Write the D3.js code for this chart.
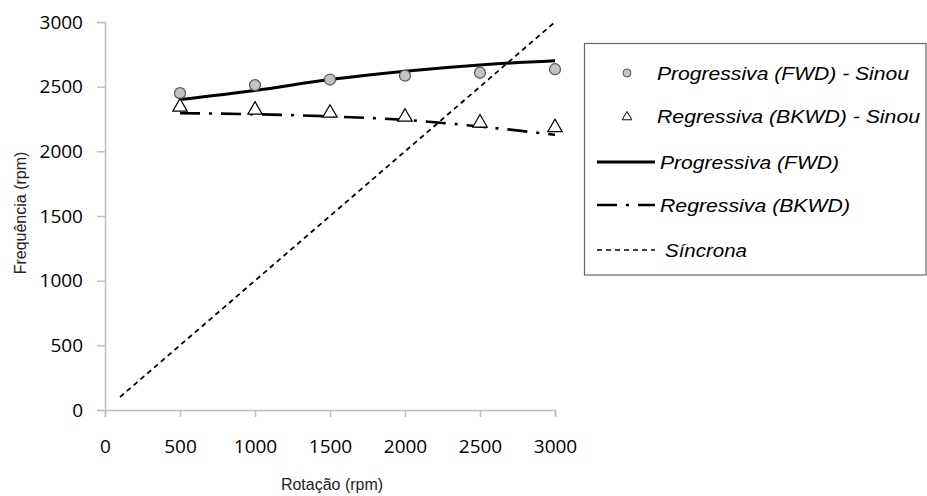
<!DOCTYPE html>
<html>
<head>
<meta charset="utf-8">
<script src="https://cdn.jsdelivr.net/npm/d3@7"></script>
<style>
  html, body { margin: 0; padding: 0; background: #fff; }
  svg { display: block; }
</style>
</head>
<body>
<svg id="chart" width="927" height="496"></svg>
<script>
// Rotor speed (rpm) for the measured points and the fitted curves
const rotacao = [500, 1000, 1500, 2000, 2500, 3000];
// Measured forward / backward whirl frequencies (Sinou)
const fwdSinou = [2450, 2512, 2555, 2585, 2608, 2635];
const bkwdSinou = [2343, 2320, 2296, 2265, 2220, 2184];
// Computed forward / backward whirl curves
const fwdModel = [2400, 2470, 2555, 2620, 2668, 2700];
const bkwdModel = [2295, 2287, 2270, 2243, 2192, 2128];
// Synchronous line (frequency = rotation)
const sincrona = [[100, 100], [3000, 3000]];
const xTicks = [0, 500, 1000, 1500, 2000, 2500, 3000];
const yTicks = [0, 500, 1000, 1500, 2000, 2500, 3000];
const legendLabels = [
  "Progressiva (FWD) - Sinou",
  "Regressiva (BKWD) - Sinou",
  "Progressiva (FWD)",
  "Regressiva (BKWD)",
  "Síncrona"
];

const svg = d3.select("#chart");
const x = d3.scaleLinear().domain([0, 3000]).range([105, 555]);
const y = d3.scaleLinear().domain([0, 3000]).range([410, 22]);

const tickFont = "'Open Sans', sans-serif";
const axisColor = "#bfbfbf";

// X axis
const xAxis = svg.append("g")
  .attr("transform", `translate(0,${y(0)})`)
  .call(d3.axisBottom(x).tickValues(xTicks).tickSize(7).tickPadding(23).tickFormat(d3.format("d")));
// Y axis
const yAxis = svg.append("g")
  .attr("transform", `translate(${x(0)},0)`)
  .call(d3.axisLeft(y).tickValues(yTicks).tickSize(8).tickPadding(14).tickFormat(d3.format("d")));

[xAxis, yAxis].forEach(g => {
  g.select(".domain").attr("stroke", axisColor).attr("stroke-width", 1.5);
  g.selectAll(".tick line").attr("stroke", axisColor).attr("stroke-width", 1.5);
  g.selectAll(".tick text")
    .attr("fill", "#000")
    .style("font-family", tickFont)
    .style("font-size", "19px");
});

// Axis titles
svg.append("text")
  .attr("x", 332).attr("y", 490)
  .attr("text-anchor", "middle")
  .attr("fill", "#222")
  .style("font-family", "'Liberation Sans', Arial, sans-serif")
  .style("font-size", "16px")
  .text("Rotação (rpm)");

svg.append("text")
  .attr("transform", "translate(26,213) rotate(-90)")
  .attr("text-anchor", "middle")
  .attr("fill", "#222")
  .style("font-family", "'Liberation Sans', Arial, sans-serif")
  .style("font-size", "16px")
  .text("Frequência (rpm)");

// Synchronous dashed line
const line = d3.line().x(d => x(d[0])).y(d => y(d[1]));
svg.append("path")
  .datum(sincrona)
  .attr("d", line)
  .attr("fill", "none")
  .attr("stroke", "#000")
  .attr("stroke-width", 1.8)
  .attr("stroke-dasharray", "5,4");

// Fitted curves
const curve = d3.line().x((d, i) => x(rotacao[i])).y(d => y(d)).curve(d3.curveMonotoneX);
svg.append("path")
  .datum(fwdModel)
  .attr("d", curve)
  .attr("fill", "none")
  .attr("stroke", "#000")
  .attr("stroke-width", 3);

svg.append("path")
  .datum(bkwdModel)
  .attr("d", curve)
  .attr("fill", "none")
  .attr("stroke", "#000")
  .attr("stroke-width", 2.6)
  .attr("stroke-dasharray", "20,9,3,9");

// Measured points
svg.append("g").selectAll("circle")
  .data(fwdSinou)
  .join("circle")
  .attr("cx", (d, i) => x(rotacao[i]))
  .attr("cy", d => y(d))
  .attr("r", 5.5)
  .attr("fill", "#c3c3c3")
  .attr("stroke", "#555")
  .attr("stroke-width", 1.2);

const tri = d3.symbol().type(d3.symbolTriangle).size(90);
svg.append("g").selectAll("path")
  .data(bkwdSinou)
  .join("path")
  .attr("d", tri)
  .attr("transform", (d, i) => `translate(${x(rotacao[i])},${y(d)})`)
  .attr("fill", "#fff")
  .attr("stroke", "#000")
  .attr("stroke-width", 1.2);

// Legend
const lg = svg.append("g");
lg.append("rect")
  .attr("x", 584.5).attr("y", 43.5)
  .attr("width", 341.5).attr("height", 231.5)
  .attr("fill", "#fff")
  .attr("stroke", "#666")
  .attr("stroke-width", 1.2);

const rowY = [73, 116, 162, 205, 250];
const textX = [657, 657, 660, 660, 665];
const textW = [252, 263, 179, 190, 82];
const legendFont = "'Liberation Sans', Arial, sans-serif";

lg.append("circle")
  .attr("cx", 627).attr("cy", rowY[0])
  .attr("r", 4)
  .attr("fill", "#c3c3c3").attr("stroke", "#555").attr("stroke-width", 1);
lg.append("path")
  .attr("d", d3.symbol().type(d3.symbolTriangle).size(40))
  .attr("transform", `translate(627,${rowY[1] + 1})`)
  .attr("fill", "#fff").attr("stroke", "#000").attr("stroke-width", 1);
lg.append("line")
  .attr("x1", 597).attr("x2", 655).attr("y1", rowY[2]).attr("y2", rowY[2])
  .attr("stroke", "#000").attr("stroke-width", 3);
lg.append("line")
  .attr("x1", 597).attr("x2", 655).attr("y1", rowY[3]).attr("y2", rowY[3])
  .attr("stroke", "#000").attr("stroke-width", 2.6)
  .attr("stroke-dasharray", "20,9,3,9");
lg.append("line")
  .attr("x1", 597).attr("x2", 655).attr("y1", rowY[4]).attr("y2", rowY[4])
  .attr("stroke", "#000").attr("stroke-width", 1.5)
  .attr("stroke-dasharray", "5,4");

lg.selectAll("text.lbl")
  .data(legendLabels)
  .join("text")
  .attr("class", "lbl")
  .attr("x", (d, i) => textX[i])
  .attr("y", (d, i) => rowY[i] + 7)
  .attr("textLength", (d, i) => textW[i])
  .attr("lengthAdjust", "spacingAndGlyphs")
  .attr("fill", "#000")
  .style("font-family", legendFont)
  .style("font-style", "italic")
  .style("font-size", "19px")
  .text(d => d);
</script>
</body>
</html>
